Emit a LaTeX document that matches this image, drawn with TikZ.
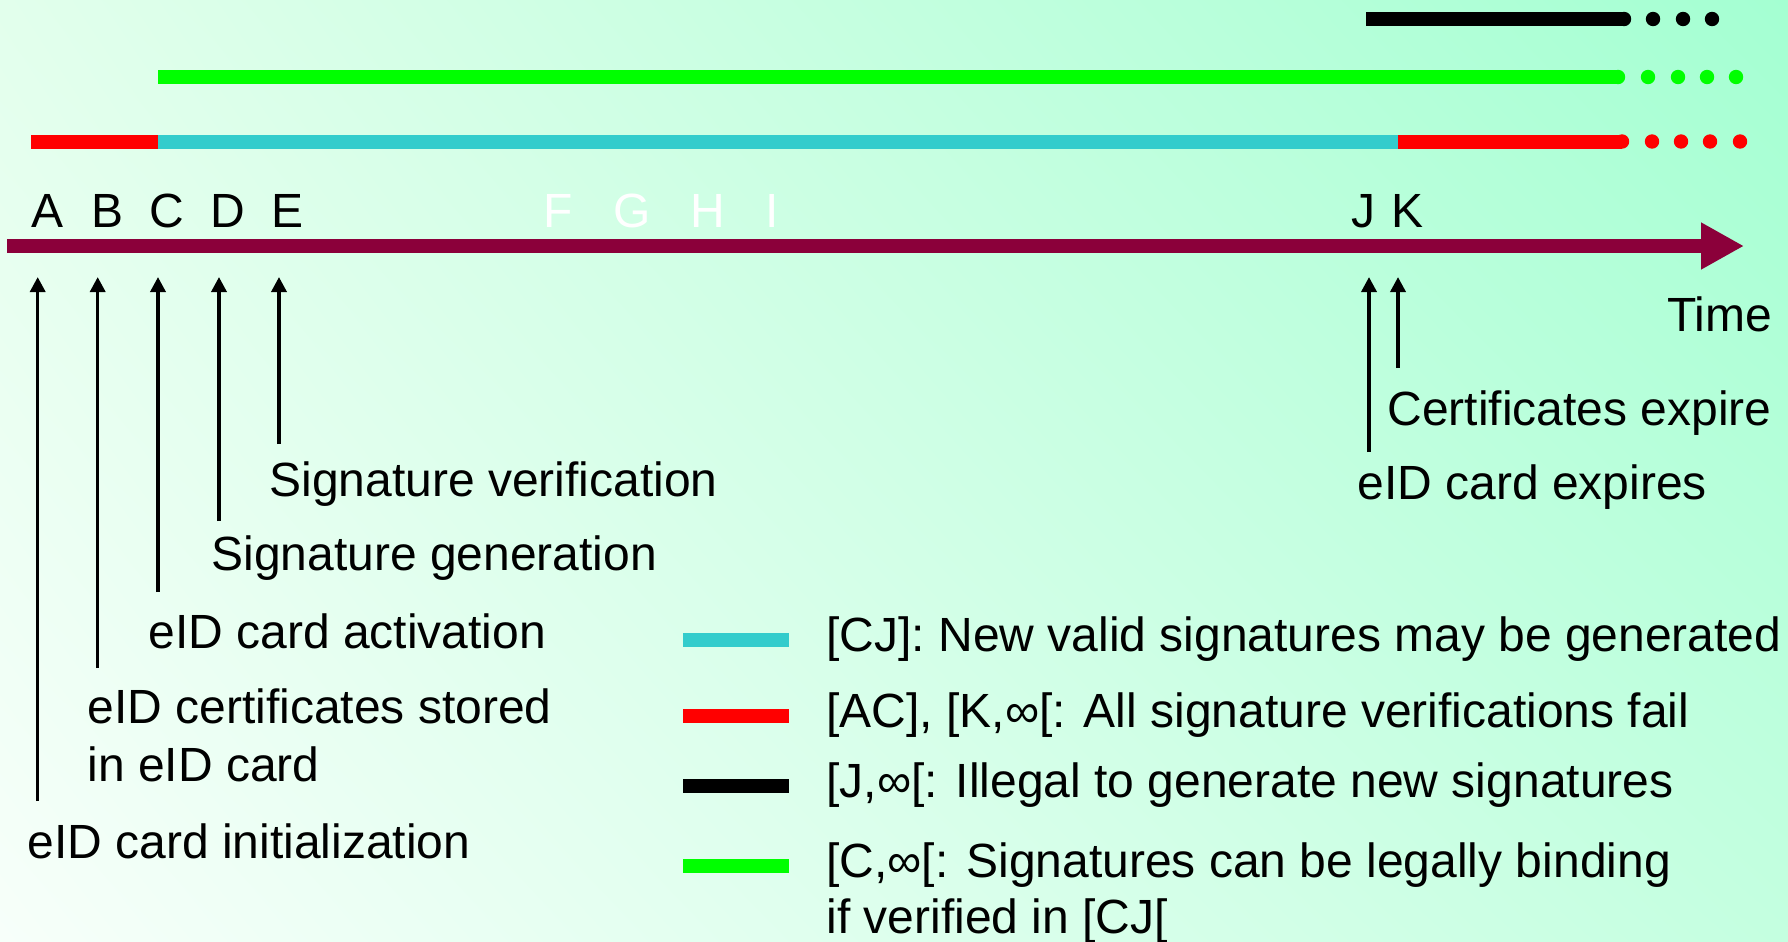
\documentclass[tikz,border=0pt]{standalone}
\usepackage{fontspec}
\setmainfont{Liberation Sans}
\usetikzlibrary{arrows.meta, positioning, shadings}
\definecolor{axisred}{RGB}{139,0,58}
\definecolor{barcyan}{RGB}{51,204,204}
\definecolor{barred}{RGB}{255,0,0}
\definecolor{bargreen}{RGB}{0,255,0}
\definecolor{bgpale}{RGB}{247,255,250}
\definecolor{bgmint}{RGB}{164,255,210}
\definecolor{bgtl}{RGB}{226,255,236}
\definecolor{bgbr}{RGB}{196,255,224}

\begin{document}
\begin{tikzpicture}[x=0.5pt, y=-0.5pt, font=\fontsize{24}{29}\selectfont,
  bar/.style={line width=7pt},
  evarrow/.style={-{Triangle[length=7.5pt,width=7.5pt]}, line width=1.75pt},
  letter/.style={anchor=base, inner sep=0pt},
  lbl/.style={anchor=base west, inner sep=0pt}]
  % background
  \shade[upper left=bgtl, upper right=bgmint, lower left=bgpale, lower right=bgbr]
    (0,0) rectangle (1788,942);
  \useasboundingbox (0,0) rectangle (1788,942);

  % period bars
  \draw[bar, barred] (31,141.5) -- (158,141.5);
  \draw[bar, barcyan] (158,141.5) -- (1398,141.5);
  \draw[bar, barred] (1398,141.5) -- (1622,141.5);
  \fill[barred] (1622,141.5) circle (3.6pt);
  \foreach \x in {1652,1681,1710,1740} \fill[barred] (\x,141.5) circle (3.6pt);

  \draw[bar, bargreen] (158,77) -- (1618,77);
  \fill[bargreen] (1618,77) circle (3.6pt);
  \foreach \x in {1648,1678,1707,1736} \fill[bargreen] (\x,77) circle (3.6pt);

  \draw[bar, black] (1366,19) -- (1624,19);
  \fill[black] (1624,19) circle (3.6pt);
  \foreach \x in {1653,1683,1712} \fill[black] (\x,19) circle (3.6pt);

  % time axis
  \coordinate (t0) at (7,246);
  \coordinate (t1) at (1744,246);
  \draw[axisred, line width=7pt, -{Triangle[length=21.5pt,width=22pt]}] (t0) -- (t1);
  \node[lbl] (time) at (1667,331) {Time};

  % event letters
  \foreach \l/\x in {A/48, B/107.5, C/167, D/228, E/288, J/1363, K/1407}
    \node[letter] (l\l) at (\x,227) {\l};
  \foreach \l/\x in {F/558, G/632, H/708, I/772}
    \node[letter, white] (l\l) at (\x,227) {\l};

  % event arrows
  \foreach \l/\x/\y in {A/37.7/801, B/97.7/668, C/158/592, D/219/521, E/279/444,
                         J/1369/452, K/1398/368} {
    \coordinate (top\l) at (\x,277);
    \coordinate (bot\l) at (\x,\y);
    \draw[evarrow] (bot\l) -- (top\l);
  }

  % event labels
  \node[lbl] (labE) at (269,496) {Signature verification};
  \node[lbl] (labD) at (211,570) {Signature generation};
  \node[lbl] (labC) at (148,648) {eID card activation};
  \node[lbl] (labB) at (87,723) {eID certificates stored};
  \node[lbl] (labBb) at (87,781) {in eID card};
  \node[lbl] (labA) at (27,858) {eID card initialization};
  \node[lbl] (labK) at (1387,425) {Certificates expire};
  \node[lbl] (labJ) at (1357,499) {eID card expires};

  % legend
  \draw[bar, barcyan] (683,640) -- (789,640);
  \draw[bar, barred] (683,716) -- (789,716);
  \draw[bar, black] (683,786) -- (789,786);
  \draw[bar, bargreen] (683,866) -- (789,866);
  \node[lbl] (legCyan) at (826,651) {[CJ]: New valid signatures may be generated};
  \node[lbl] (legRed) at (826,727) {[AC], [K,∞[: All signature verifications fail};
  \node[lbl] (legBlack) at (826,797) {[J,∞[: Illegal to generate new signatures};
  \node[lbl] (legGreen) at (826,877) {[C,∞[: Signatures can be legally binding};
  \node[lbl] (legGreenb) at (826,933) {if verified in [CJ[};
\end{tikzpicture}
\end{document}
